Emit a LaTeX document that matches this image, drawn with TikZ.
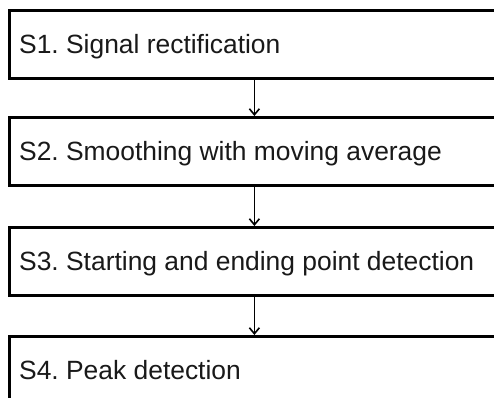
\documentclass[tikz,border=0pt]{standalone}
\usepackage{fontspec}
\setmainfont{Liberation Sans}
\usetikzlibrary{arrows.meta,calc}
\begin{document}
\frenchspacing
\begin{tikzpicture}[x=1pt,y=-1pt,
  stepbox/.style={draw=black,line width=2.8pt,rectangle,minimum width=490pt,minimum height=68pt,anchor=north west,inner sep=0pt},
  lab/.style={anchor=base west,inner sep=0pt,font=\fontsize{26.4}{30}\selectfont,text=black!90},
  flow/.style={line width=1.8pt,-{Straight Barb[length=6pt,width=10pt,line width=1.6pt]}}]
\useasboundingbox (0,0) rectangle (494,397);
\fill[white] (0,0) rectangle (494,397);
\clip (0,0) rectangle (494,397);
\node[stepbox] (s1) at (8,9) {};
\node[stepbox] (s2) at (8,116) {};
\node[stepbox] (s3) at (8,226) {};
\node[stepbox] (s4) at (8,335) {};
\node[lab] (t1) at ($(s1.west)+(11,9)$) {S1. Signal rectification};
\node[lab] (t2) at ($(s2.west)+(11,9)$) {S2. Smoothing with moving average};
\node[lab] (t3) at ($(s3.west)+(11,9)$) {S3. Starting and ending point detection};
\node[lab] (t4) at ($(s4.west)+(11,9)$) {S4. Peak detection};
\draw[flow] (s1.south) -- (s2.north);
\draw[flow] (s2.south) -- (s3.north);
\draw[flow] (s3.south) -- (s4.north);
\end{tikzpicture}
\end{document}
